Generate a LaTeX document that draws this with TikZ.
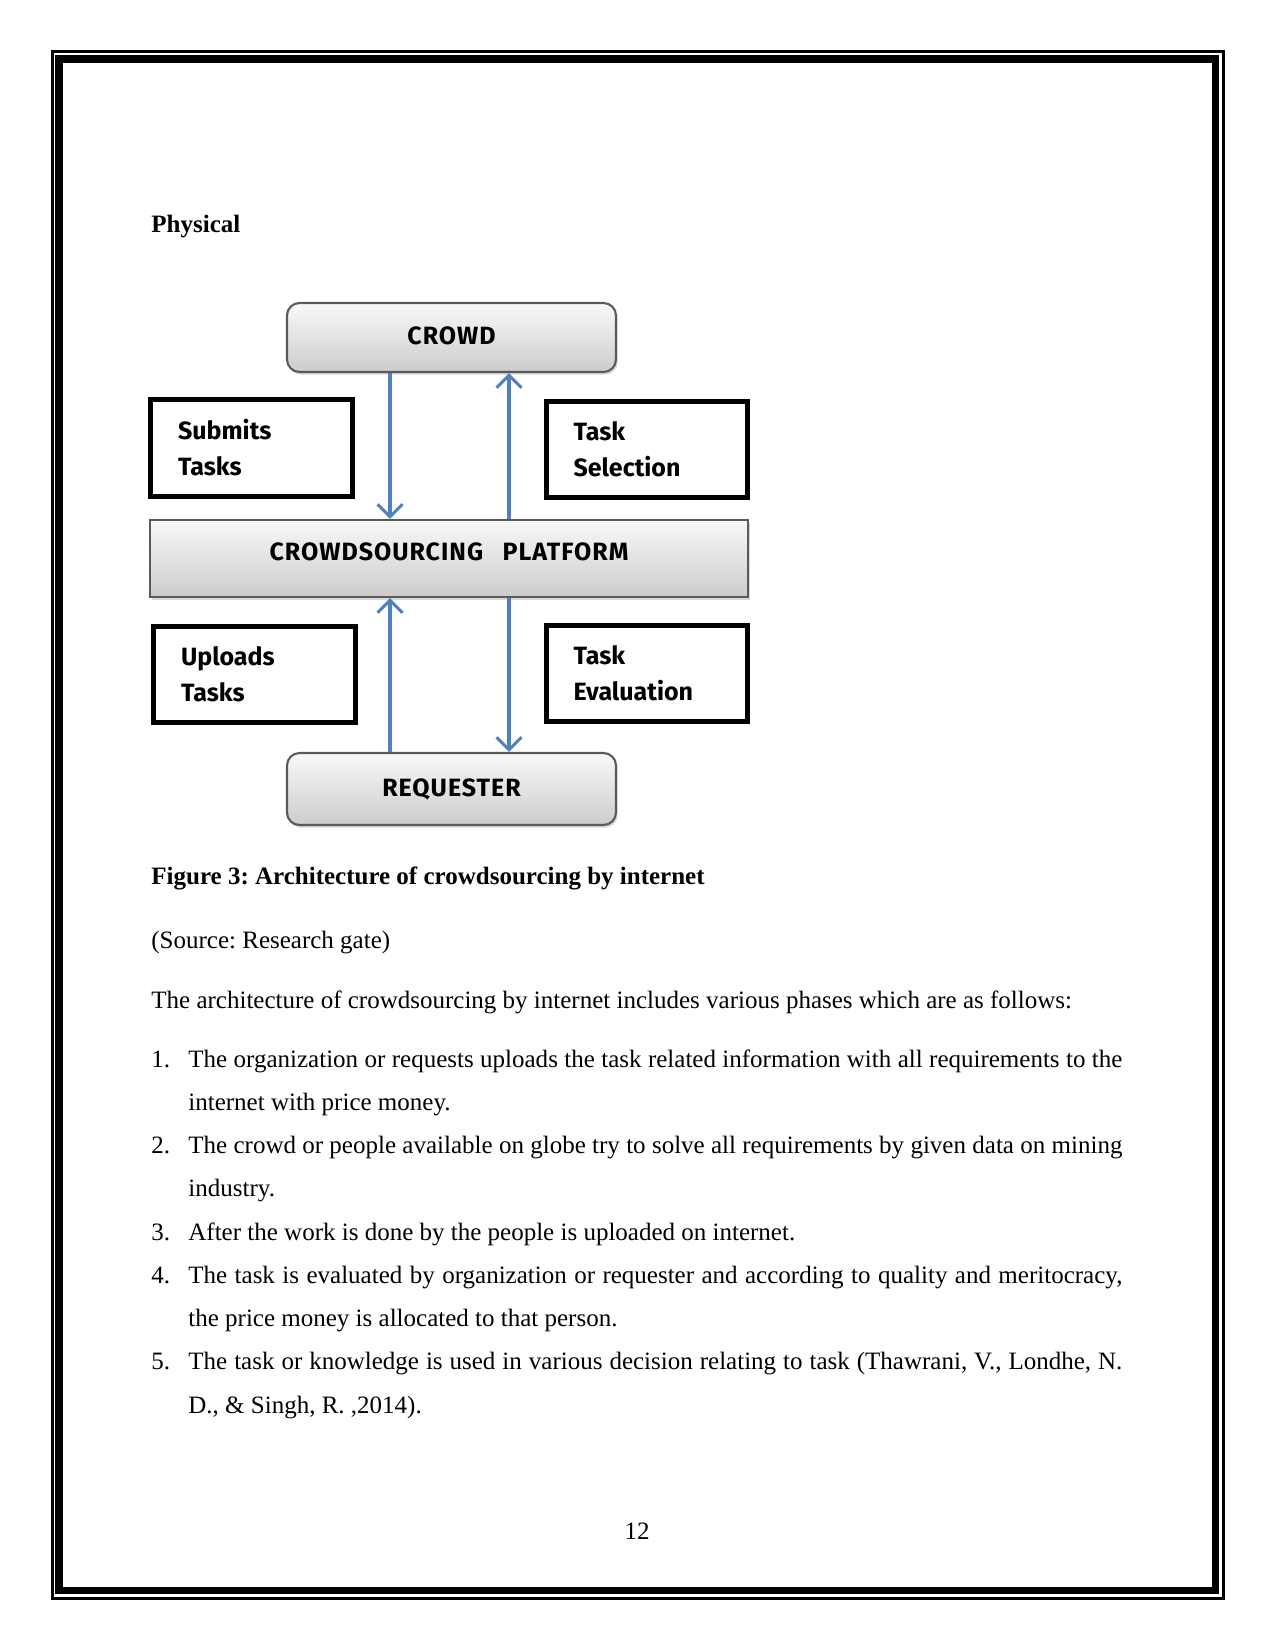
\documentclass[tikz,border=0pt]{standalone}
\usepackage{fontspec}
\setmainfont{Liberation Serif}
\newfontfamily\diagfont{Fira Sans}
\usetikzlibrary{arrows.meta,shadows}
\definecolor{arrblue}{HTML}{4F81BD}
\definecolor{boxedge}{HTML}{5A5A5A}
\begin{document}
\frenchspacing
\begin{tikzpicture}[x=0.48pt,y=-0.48pt,
  body/.style={font=\fontsize{12pt}{14pt}\selectfont\frenchspacing, inner sep=0pt, anchor=base west},
  gradbox/.style={draw=boxedge, line width=1pt, top color=gray!5, bottom color=gray!40,
    drop shadow={opacity=0.3,shadow xshift=0.8pt,shadow yshift=-1.3pt},
    font=\diagfont\bfseries\fontsize{12pt}{14pt}\selectfont\addfontfeature{LetterSpace=4},
    inner sep=0pt},
  plainbox/.style={draw=black, line width=2.4pt, fill=white, inner xsep=13pt, inner ysep=0pt,
    align=left, text width=70.5pt, minimum width=201*0.48pt, minimum height=96*0.48pt,
    font=\diagfont\bfseries\fontsize{12pt}{17.3pt}\selectfont},
  arr/.style={draw=arrblue, line width=1.5pt, -{Straight Barb[length=6pt,width=12pt]}}
]
\useasboundingbox (0,0) rectangle (1275,1650);
% page border
\draw[line width=1.44pt] (52,51.5) rectangle (1223.5,1598.5);
\draw[line width=3.8pt] (59,59) rectangle (1215.5,1590.5);

% heading
\node[body] (phys) at (151,233) {\textbf{Physical}};

% diagram
\node[gradbox, rounded corners=6pt, minimum width=329*0.48pt, minimum height=69*0.48pt] (crowd) at (451.5,337.5) {\raisebox{2pt}{CROWD}};
\node[gradbox, minimum width=598*0.48pt, minimum height=77*0.48pt] (plat) at (449,558.5) {\raisebox{6.5pt}{CROWDSOURCING\hspace{6pt} PLATFORM}};
\node[gradbox, rounded corners=6pt, minimum width=329*0.48pt, minimum height=72*0.48pt] (req) at (451.5,789) {\raisebox{1.5pt}{REQUESTER}};

\node[plainbox] (submits) at (251.5,448) {Submits\\Tasks};
\node[plainbox] (selection) at (647,449.5) {Task\\Selection};
\node[plainbox] (uploads) at (254.5,674) {Uploads\\Tasks};
\node[plainbox] (evaluation) at (647,673.5) {Task\\Evaluation};

\coordinate (cl) at (390,0);
\coordinate (cr) at (509,0);
\draw[arr] (crowd.south -| cl) -- (plat.north -| cl);
\draw[arr] (plat.north -| cr) -- (crowd.south -| cr);
\draw[arr] (req.north -| cl) -- (plat.south -| cl);
\draw[arr] (plat.south -| cr) -- (req.north -| cr);

% caption and text
\node[body] (cap) at (151,884) {\textbf{Figure 3: Architecture of crowdsourcing by internet}};
\node[body] (src) at (151,948) {(Source: Research gate)};
\node[body] (intro) at (151,1008) {The architecture of crowdsourcing by internet includes various phases which are as follows:};

\node[body] (n1) at (151,1067) {1.};
\node[body] (l1a) at (188,1067) {\makebox[448.3pt][s]{The organization or requests uploads the task related information with all requirements to the}};
\node[body] (l1b) at (188,1110.25) {internet with price money.};
\node[body] (n2) at (151,1153.5) {2.};
\node[body] (l2a) at (188,1153.5) {\makebox[448.3pt][s]{The crowd or people available on globe try to solve all requirements by given data on mining}};
\node[body] (l2b) at (188,1196.75) {industry.};
\node[body] (n3) at (151,1240) {3.};
\node[body] (l3a) at (188,1240) {After the work is done by the people is uploaded on internet.};
\node[body] (n4) at (151,1283.25) {4.};
\node[body] (l4a) at (188,1283.25) {\makebox[448.3pt][s]{The task is evaluated by organization or requester and according to quality and meritocracy,}};
\node[body] (l4b) at (188,1326.5) {the price money is allocated to that person.};
\node[body] (n5) at (151,1369.75) {5.};
\node[body] (l5a) at (188,1369.75) {\makebox[448.3pt][s]{The task or knowledge is used in various decision relating to task (Thawrani, V., Londhe, N.}};
\node[body] (l5b) at (188,1413) {D., \& Singh, R. ,2014).};

\node[body, anchor=base] (pg) at (637,1539) {12};
\end{tikzpicture}
\end{document}
